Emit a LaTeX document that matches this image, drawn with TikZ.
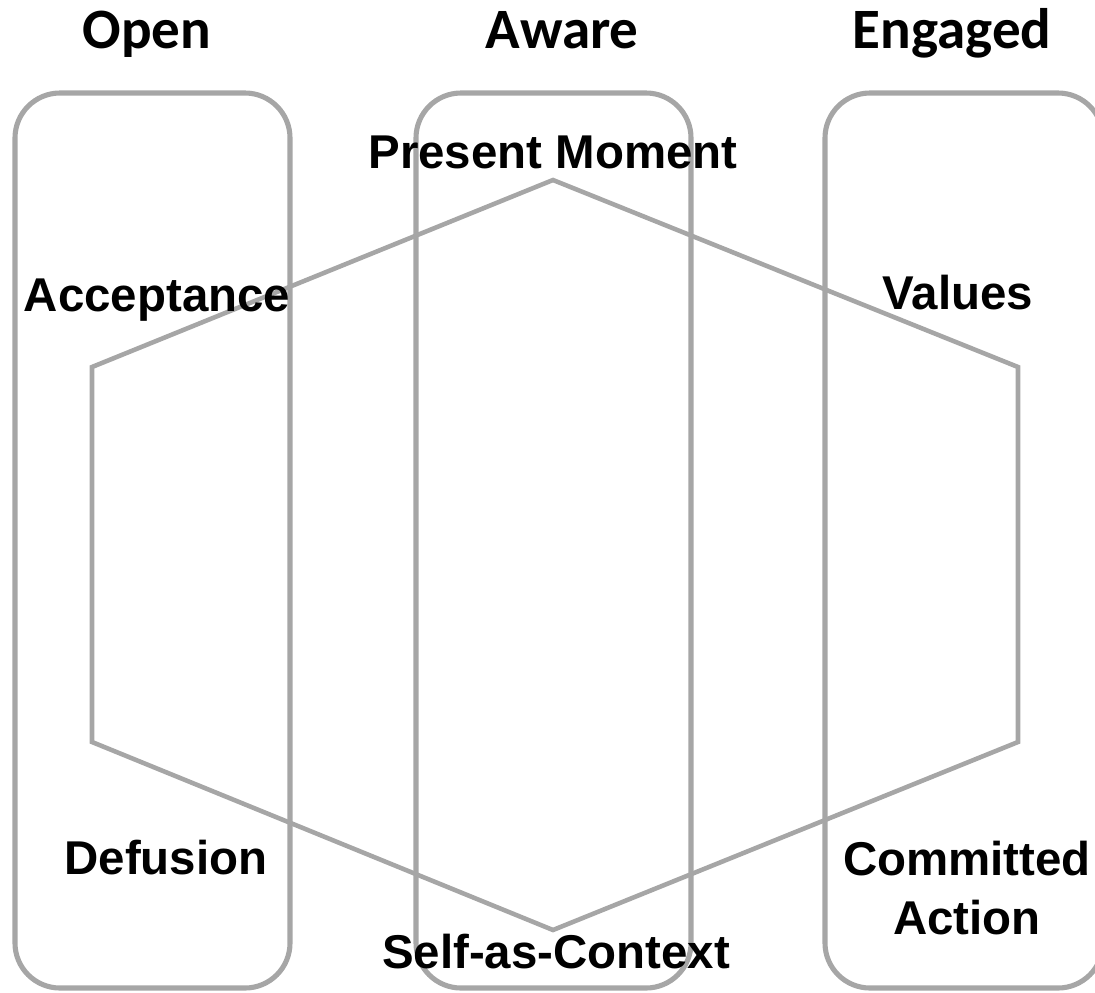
\documentclass[tikz,border=0pt]{standalone}
\usepackage{fontspec}
\setmainfont{Liberation Sans}
\newfontfamily\titlefont{Carlito}
\definecolor{linegray}{RGB}{166,166,166}
\begin{document}
\begin{tikzpicture}[x = 0.02cm, y = -0.02cm]
        \tikzset{box/.style = {line width = 2.9pt, linegray, rounded corners = 0.9cm},
                 hexline/.style = {line width = 2.6pt, linegray, line join = miter},
                 title/.style = {anchor = base, font = \titlefont\bfseries\fontsize{32.5}{36}\selectfont},
                 label/.style = {font = \bfseries\fontsize{27}{33.5}\selectfont, align = center}}
        \useasboundingbox (0, 0) rectangle (1095, 992);
        \draw [box] (15, 93) rectangle (290, 988);
        \draw [box] (416, 93) rectangle (691, 988);
        \draw [box] (825, 93) rectangle (1103, 988);
        \draw [hexline] (553, 180) -- (1018, 367) -- (1018, 742) -- (553, 930) -- (92, 742) -- (92, 367) -- cycle;
        \node [title] (open) at (147, 48) {Open};
        \node [title] (aware) at (562, 48) {Aware};
        \node [title] (engaged) at (952, 48) {Engaged};
        \node [label] (present) at (553, 152) {Present Moment};
        \node [label] (accept) at (157, 300) {Acceptance};
        \node [label] (values) at (958, 293) {Values};
        \node [label] (defusion) at (166, 858) {Defusion};
        \node [label] (committed) at (967, 888) {Committed\\Action};
        \node [label] (self) at (556, 952) {Self-as-Context};
    \end{tikzpicture}
\end{document}
